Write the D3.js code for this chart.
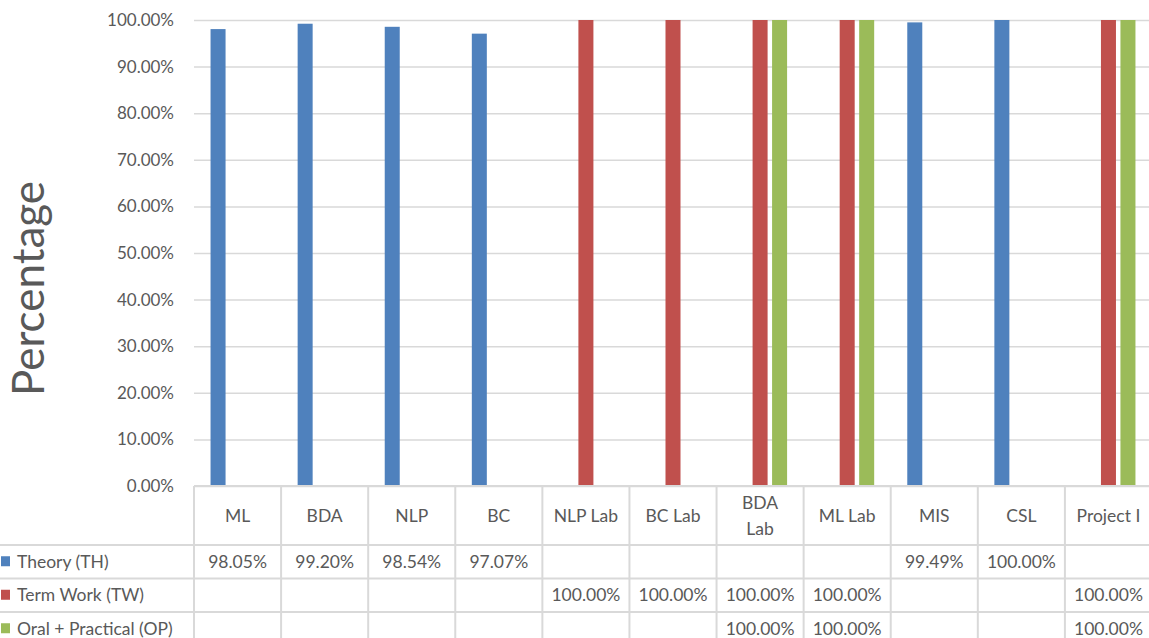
<!DOCTYPE html>
<html>
<head>
<meta charset="utf-8">
<script src="https://cdn.jsdelivr.net/npm/d3@7"></script>
<style>
  body { margin: 0; background: #fff; overflow: hidden; }
  text { font-family: Lato, "Open Sans", sans-serif; fill: #595959; }
</style>
</head>
<body>
<div id="chart"></div>
<script>
/*
  Result percentages per subject, clustered columns with data table
*/

var categories = ["ML", "BDA", "NLP", "BC", "NLP Lab", "BC Lab", "BDA Lab", "ML Lab", "MIS", "CSL", "Project I"];
var seriesNames = ["Theory (TH)", "Term Work (TW)", "Oral + Practical (OP)"];
var theory = [98.05, 99.20, 98.54, 97.07, null, null, null, null, 99.49, 100.00, null];
var termWork = [null, null, null, null, 100.00, 100.00, 100.00, 100.00, null, null, 100.00];
var oralPractical = [null, null, null, null, null, null, 100.00, 100.00, null, null, 100.00];
var yTicks = [0, 10, 20, 30, 40, 50, 60, 70, 80, 90, 100];
var colors = ["#4f81bd", "#c0504d", "#9bbb59"];
var wrapped = {"BDA Lab": ["BDA", "Lab"]};

var seriesValues = [theory, termWork, oralPractical];

var W = 1149, H = 638;
var margin = {top: 20, right: -3, bottom: 152, left: 194};
var width = W - margin.left - margin.right,
    height = H - margin.top - margin.bottom;

var svg = d3.select("#chart").append("svg")
  .attr("width", W)
  .attr("height", H);

var g = svg.append("g")
  .attr("transform", "translate(" + margin.left + "," + margin.top + ")");

var x = d3.scaleBand().domain(categories).range([0, width]).padding(0);
var x1 = d3.scaleBand().domain(d3.range(seriesNames.length))
  .range([x.bandwidth() * 0.19, x.bandwidth() * 0.81])
  .paddingInner(0.23).paddingOuter(0);
var y = d3.scaleLinear().domain([0, 100]).range([height, 0]);

//Y axis with gridlines
var yAxis = g.append("g")
  .call(d3.axisLeft(y).tickValues(yTicks).tickSize(-width).tickPadding(20)
    .tickFormat(function(d){ return d.toFixed(2) + "%"; }));
yAxis.select(".domain").remove();
yAxis.selectAll("line").attr("stroke", "#d9d9d9").attr("stroke-width", 1.5);
yAxis.selectAll("text")
  .style("font-size", "17px")
  .style("font-family", "Lato, sans-serif")
  .attr("fill", "#595959");

//Bars
seriesValues.forEach(function(vals, s){
  var rows = categories.map(function(c, i){ return {cat: c, v: vals[i]}; })
    .filter(function(d){ return d.v != null; });
  g.selectAll(".bar-" + s)
    .data(rows)
    .enter().append("rect")
    .attr("class", "bar-" + s)
    .attr("x", function(d){ return x(d.cat) + x1(s); })
    .attr("width", x1.bandwidth())
    .attr("y", function(d){ return y(d.v); })
    .attr("height", function(d){ return height - y(d.v); })
    .attr("fill", colors[s]);
});

//Y axis title
svg.append("text")
  .attr("transform", "translate(44,288.5) rotate(-90)")
  .style("text-anchor", "middle")
  .style("font-size", "44px")
  .text("Percentage");

//Data table below the plot
var tbl = g.append("g").attr("transform", "translate(0," + height + ")");
var headerH = 59, rowH = 33.5;
var lineColor = "#d9d9d9";

// horizontal rules
tbl.append("line").attr("x1", 0).attr("x2", width).attr("y1", 0).attr("y2", 0)
  .attr("stroke", lineColor).attr("stroke-width", 2);
seriesNames.forEach(function(n, s){
  var yy = headerH + s * rowH;
  tbl.append("line").attr("x1", -margin.left).attr("x2", width).attr("y1", yy).attr("y2", yy)
    .attr("stroke", lineColor).attr("stroke-width", 2);
});

// vertical rules
categories.concat(["_end"]).forEach(function(c, i){
  var xx = i < categories.length ? x(c) : width;
  tbl.append("line").attr("x1", xx).attr("x2", xx).attr("y1", 0).attr("y2", headerH + rowH * 4)
    .attr("stroke", lineColor).attr("stroke-width", 2);
});

// category labels
categories.forEach(function(c){
  var lines = wrapped[c] || [c];
  var t = tbl.append("text")
    .attr("x", x(c) + x.bandwidth() / 2)
    .attr("y", headerH / 2 + 6 - (lines.length - 1) * 13)
    .style("text-anchor", "middle")
    .style("font-size", "17.5px");
  lines.forEach(function(l, k){
    t.append("tspan").attr("x", x(c) + x.bandwidth() / 2).attr("dy", k ? 26 : 0).text(l);
  });
});

// legend keys and values
seriesNames.forEach(function(n, s){
  var cy = headerH + s * rowH + rowH / 2;
  tbl.append("rect")
    .attr("x", -margin.left + 1).attr("y", cy - 5.5)
    .attr("width", 9).attr("height", 10)
    .attr("fill", colors[s]);
  tbl.append("text")
    .attr("x", -margin.left + 17).attr("y", cy + 6)
    .style("font-size", "17.5px")
    .text(n);
  seriesValues[s].forEach(function(v, i){
    if(v == null) return;
    tbl.append("text")
      .attr("x", x(categories[i]) + x.bandwidth() / 2)
      .attr("y", cy + 6)
      .style("text-anchor", "middle")
      .style("font-size", "17.5px")
      .text(v.toFixed(2) + "%");
  });
});
</script>
</body>
</html>
